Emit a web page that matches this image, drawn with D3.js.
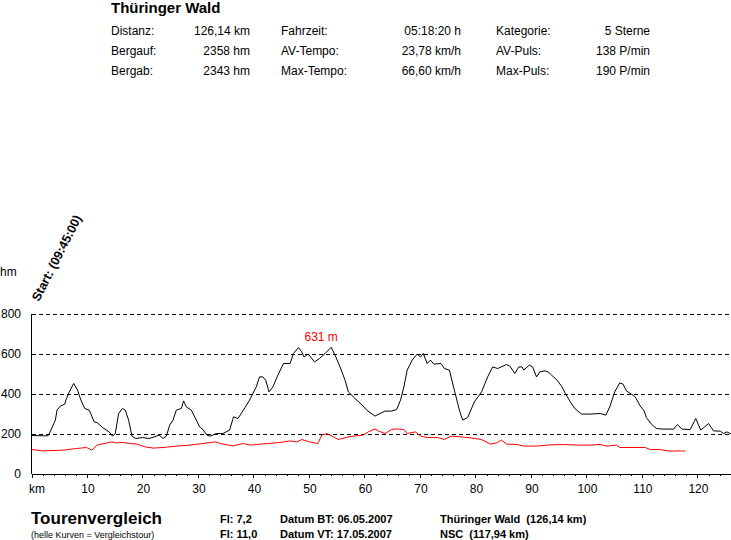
<!DOCTYPE html>
<html>
<head>
<meta charset="utf-8">
<script src="https://cdn.jsdelivr.net/npm/d3@7"></script>
<style>
  body { margin: 0; background: #fff; color: #000; }
  svg { display: block; font-family: Arial, "Liberation Sans", sans-serif; }
</style>
</head>
<body>
<div id="chart"></div>
<script>
// Hoehenprofil Thueringer Wald (km, hm)
var tourKm = [0,2.8,3.1,4.3,4.6,5.2,6.0,6.2,6.8,7.6,8.3,8.9,9.6,10.4,11.3,11.9,12.8,14.0,14.6,15.1,15.7,16.4,16.9,17.5,18.1,18.8,20.0,21.2,22.1,23.0,23.7,24.3,24.9,25.5,26.1,27.0,27.4,27.9,28.8,29.7,30.3,30.9,31.6,32.2,33.3,34.5,35.7,36.4,37.2,38.2,39.3,40.5,41.1,41.7,42.2,42.8,43.5,44.4,45.4,46.6,47.2,48.1,48.7,49.1,49.9,50.5,51.0,51.9,52.9,54.0,54.7,55.6,56.5,57.1,58.3,59.6,60.4,61.9,62.8,63.7,64.9,65.8,66.5,67.1,67.7,68.6,69.5,70.1,70.6,71.3,71.9,72.5,73.8,74.4,75.3,76.2,77.1,77.7,78.6,79.8,81.1,82.2,83.1,84.0,85.6,86.2,87.1,87.8,88.4,88.7,89.7,90.3,91.0,91.6,92.5,93.1,93.7,94.7,95.6,96.2,97.1,97.9,99.1,100.6,102.5,103.5,104.2,105.1,106.0,106.6,107.2,108.1,108.8,109.7,110.4,110.8,111.7,112.6,113.8,115.7,116.4,117.2,118.7,119.7,120.6,121.3,122.0,122.9,124.1,124.7,125.3,125.9,126.14];
var tourHm = [190,188,192,267,317,337,347,367,408,450,417,367,325,317,258,253,230,208,187,200,300,325,317,267,187,175,180,175,183,192,175,187,242,267,317,325,363,333,317,267,233,220,192,187,200,200,217,283,275,317,367,433,483,483,467,408,433,492,550,550,600,630,608,583,597,575,558,575,600,631,592,533,467,408,375,342,317,287,300,312,312,320,367,433,517,567,597,583,600,550,567,547,550,525,517,417,317,267,280,358,408,483,533,525,545,537,500,533,533,517,542,533,483,508,513,508,492,467,433,400,358,325,297,297,300,292,333,408,453,447,413,397,383,337,313,280,247,225,222,222,245,222,220,275,217,233,250,213,212,200,208,200,200];

// Vergleichstour NSC
var vglKm = [0,2.1,5.8,8.1,9.9,10.9,11.8,13.6,14.5,15.3,16.5,17.8,19.0,20.5,21.9,23.7,26.2,28.5,30.9,33.1,34.5,36.3,38.2,39.4,41.1,42.7,44.7,46.6,47.8,48.7,50.1,51.6,52.3,53.2,54.4,55.3,56.7,57.9,59.8,60.7,61.9,62.5,63.7,64.9,65.8,67.1,67.7,69.2,70.1,71.3,73.2,74.4,75.6,77.4,79.2,81.1,82.7,83.8,84.7,85.6,87.5,88.7,91.0,93.4,95.9,98.2,100.6,102.5,103.7,105.4,106.0,108.5,110.6,111.5,113.2,115.0,116.9,117.8];
var vglHm = [120,113,117,125,130,117,142,153,158,153,155,150,147,133,127,130,137,142,150,158,147,138,150,142,147,150,155,163,158,170,158,150,192,200,183,170,180,187,192,208,223,213,200,220,223,220,200,208,187,180,180,170,187,183,178,170,147,153,167,147,145,137,137,143,145,142,142,145,137,142,130,130,130,120,120,112,113,112];

var yTicks = [0,200,400,600,800];
var xTicks = [10,20,30,40,50,60,70,80,90,100,110,120];

var headRows = [
  ["Distanz:", "126,14 km", "Fahrzeit:", "05:18:20 h", "Kategorie:", "5 Sterne"],
  ["Bergauf:", "2358 hm", "AV-Tempo:", "23,78 km/h", "AV-Puls:", "138 P/min"],
  ["Bergab:", "2343 hm", "Max-Tempo:", "66,60 km/h", "Max-Puls:", "190 P/min"]
];

var W = 731, H = 540;
var svg = d3.select("#chart").append("svg")
    .attr("width", W).attr("height", H);

var x = d3.scaleLinear().domain([0, 126.14]).range([31.5, 731.5]);
var y = d3.scaleLinear().domain([0, 800]).range([473.5, 313.5]);

// Kopf
svg.append("text").attr("x", 111).attr("y", 13)
    .style("font-size", "15px").style("font-weight", "bold")
    .text("Thüringer Wald");

var colX = [111, 250, 281, 461, 496, 650];
headRows.forEach(function(row, i){
  row.forEach(function(t, j){
    svg.append("text")
      .attr("x", colX[j]).attr("y", 35 + i * 20)
      .attr("text-anchor", j % 2 ? "end" : "start")
      .style("font-size", "12px")
      .text(t);
  });
});

// Gitter
svg.append("g").selectAll("line")
  .data(yTicks.filter(function(d){ return d > 0; }))
  .enter().append("line")
  .attr("x1", x(0)).attr("x2", W)
  .attr("y1", function(d){ return Math.round(y(d)) + 0.5; })
  .attr("y2", function(d){ return Math.round(y(d)) + 0.5; })
  .attr("stroke", "#000").attr("stroke-dasharray", "4,3")
  .attr("shape-rendering", "crispEdges");

// Achsen
svg.append("line")
  .attr("x1", x(0)).attr("x2", x(0))
  .attr("y1", y(800)).attr("y2", y(0))
  .attr("stroke", "#000").attr("shape-rendering", "crispEdges");

var xAxis = d3.axisBottom(x).tickValues(d3.range(0, 127, 2)).tickSize(2).tickFormat("");
svg.append("g").attr("transform", "translate(0," + Math.round(y(0)) + ")")
  .call(xAxis)
  .call(function(g){
    g.select(".domain").attr("d", "M" + x(0) + ",0.5H" + W)
      .attr("stroke", "#000").attr("shape-rendering", "crispEdges");
    g.selectAll(".tick line").attr("stroke", "#000").attr("shape-rendering", "crispEdges")
      .attr("y2", function(d){ return d % 10 === 0 ? 4 : 2; });
  });

svg.append("g").selectAll("text")
  .data(xTicks).enter().append("text")
  .attr("x", function(d){ return x(d) + 1; })
  .attr("y", 493)
  .attr("text-anchor", "middle")
  .style("font-size", "12px")
  .text(function(d){ return d; });

svg.append("text").attr("x", 37).attr("y", 493)
  .attr("text-anchor", "middle").style("font-size", "12px").text("km");

svg.append("g").selectAll("text")
  .data(yTicks).enter().append("text")
  .attr("x", 21)
  .attr("y", function(d){ return y(d) + 4; })
  .attr("text-anchor", "end")
  .style("font-size", "12px")
  .text(function(d){ return d; });

svg.append("text").attr("x", 0).attr("y", 276)
  .style("font-size", "12px").text("hm");

svg.append("text")
  .attr("transform", "translate(39,302) rotate(-63)")
  .style("font-size", "12.5px").style("font-weight", "bold")
  .text("Start: (09:45:00)");

// Kurven
var line = d3.line()
  .x(function(d){ return x(d[0]); })
  .y(function(d){ return y(d[1]); });

svg.append("path")
  .datum(d3.zip(vglKm, vglHm))
  .attr("d", line)
  .attr("fill", "none").attr("stroke", "#ff0000").attr("stroke-width", 1);

svg.append("path")
  .datum(d3.zip(tourKm, tourHm))
  .attr("d", line)
  .attr("fill", "none").attr("stroke", "#000").attr("stroke-width", 1);

var iMax = d3.maxIndex(tourHm);
svg.append("text")
  .attr("x", x(tourKm[iMax]) - 10)
  .attr("y", y(tourHm[iMax]) - 6)
  .attr("text-anchor", "middle")
  .attr("fill", "#ff0000")
  .style("font-size", "12px")
  .text(tourHm[iMax] + " m");

// Fuss
svg.append("text").attr("x", 31).attr("y", 524)
  .style("font-size", "17px").style("font-weight", "bold")
  .text("Tourenvergleich");
svg.append("text").attr("x", 31).attr("y", 538)
  .style("font-size", "9px")
  .text("(helle Kurven = Vergleichstour)");

var foot = [
  [220, 523, "Fl: 7,2"], [220, 538, "Fl: 11,0"],
  [280, 523, "Datum BT: 06.05.2007"], [280, 538, "Datum VT: 17.05.2007"],
  [440, 523, "Thüringer Wald  (126,14 km)"], [440, 538, "NSC  (117,94 km)"]
];
svg.append("g").selectAll("text")
  .data(foot).enter().append("text")
  .attr("x", function(d){ return d[0]; })
  .attr("y", function(d){ return d[1]; })
  .attr("xml:space", "preserve")
  .style("font-size", "11px").style("font-weight", "bold")
  .style("white-space", "pre")
  .text(function(d){ return d[2]; });
</script>
</body>
</html>
